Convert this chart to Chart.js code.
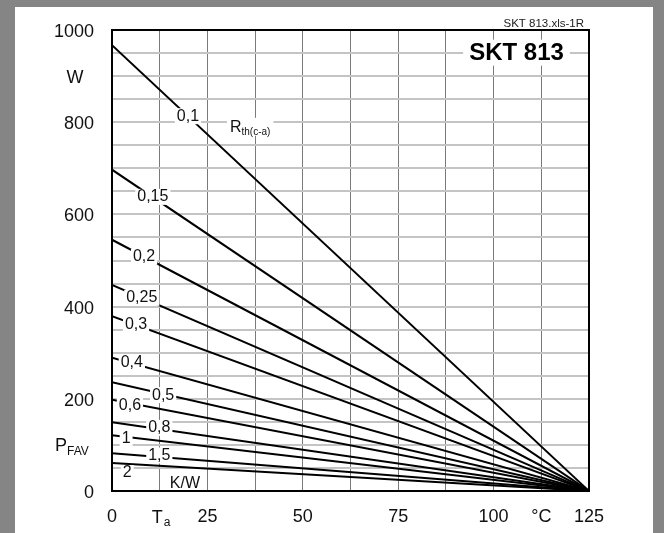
<!DOCTYPE html>
<html>
<head>
<meta charset="utf-8">
<script src="https://cdn.jsdelivr.net/npm/chart.js@4.4.1/dist/chart.umd.min.js"></script>
<style>
    html, body { margin: 0; padding: 0; }
    body { width: 664px; height: 533px; background: #858585; position: relative; overflow: hidden; }
    #frame { position: absolute; left: 15px; top: 7px; width: 638px; height: 526px; background: #ffffff; }
    canvas { display: block; }
</style>
</head>
<body>
<div id="frame"><canvas id="powerChart" width="638" height="526"></canvas></div>
<script>
// === SKT 813 power dissipation vs ambient temperature ===

// Ambient temperature end points (°C)
const ambientTemp = [0, 125];
// Thermal resistance case-ambient, one curve each (K/W)
const rthLabels = ['0,1', '0,15', '0,2', '0,25', '0,3', '0,4', '0,5', '0,6', '0,8', '1', '1,5', '2'];
// P_FAV (W) read at Ta = 0 and Ta = 125
const powerAtStart = [967, 697, 545, 447, 379, 289, 236, 198, 149, 121, 82, 61];
const powerAtEnd = [0, 0, 0, 0, 0, 0, 0, 0, 0, 0, 0, 0];

const xTickLabels = [0, 25, 50, 75, 100, 125];
const yTickLabels = [0, 200, 400, 600, 800, 1000];

// where the curve labels sit (data coords)
const labelSpots = [
    [19.9, 813], [10.7, 638], [8.4, 508], [7.8, 419], [6.3, 360], [5.2, 278],
    [13.4, 208], [4.7, 185], [12.4, 137], [3.7, 113], [12.4, 77], [4, 39]
];

const FONT = "'Liberation Sans', Arial, sans-serif";

const datasets = rthLabels.map(function(label, i) {
    return {
        label: label,
        data: [
            { x: ambientTemp[0], y: powerAtStart[i] },
            { x: ambientTemp[1], y: powerAtEnd[i] }
        ],
        borderColor: '#000000',
        borderWidth: 2,
        pointRadius: 0,
        tension: 0,
        fill: false
    };
});

function boxedText(ctx, text, x, y, font) {
    ctx.font = font;
    const w = ctx.measureText(text).width;
    ctx.fillStyle = '#ffffff';
    ctx.fillRect(x - w / 2 - 2, y - 8, w + 4, 16);
    ctx.fillStyle = '#111111';
    ctx.textAlign = 'center';
    ctx.textBaseline = 'middle';
    ctx.fillText(text, x, y);
}

const annotations = {
    id: 'annotations',
    afterDatasetsDraw: function(chart) {
        const ctx = chart.ctx;
        const xs = chart.scales.x;
        const ys = chart.scales.y;
        const area = chart.chartArea;
        ctx.save();

        // curve labels
        rthLabels.forEach(function(label, i) {
            const px = xs.getPixelForValue(labelSpots[i][0]);
            const py = ys.getPixelForValue(labelSpots[i][1]);
            boxedText(ctx, label, px, py, '16px ' + FONT);
        });

        // R_th(c-a)
        let px = xs.getPixelForValue(36.2);
        let py = ys.getPixelForValue(790);
        ctx.font = '16px ' + FONT;
        const rW = ctx.measureText('R').width;
        ctx.font = '10px ' + FONT;
        const sW = ctx.measureText('th(c-a)').width;
        ctx.fillStyle = '#ffffff';
        ctx.fillRect(px - (rW + sW) / 2 - 3, py - 9, rW + sW + 6, 18);
        ctx.fillStyle = '#111111';
        ctx.textAlign = 'left';
        ctx.textBaseline = 'alphabetic';
        ctx.font = '16px ' + FONT;
        ctx.fillText('R', px - (rW + sW) / 2, py + 5);
        ctx.font = '10px ' + FONT;
        ctx.fillText('th(c-a)', px - (rW + sW) / 2 + rW, py + 8);

        // K/W
        ctx.font = '16px ' + FONT;
        ctx.textAlign = 'center';
        ctx.textBaseline = 'middle';
        ctx.fillText('K/W', xs.getPixelForValue(19.1), ys.getPixelForValue(15));

        // device name
        ctx.font = 'bold 24px ' + FONT;
        const nW = ctx.measureText('SKT 813').width;
        px = xs.getPixelForValue(106);
        py = ys.getPixelForValue(953);
        ctx.fillStyle = '#ffffff';
        ctx.fillRect(px - nW / 2 - 6, py - 12, nW + 12, 26);
        ctx.fillStyle = '#000000';
        ctx.fillText('SKT 813', px, py + 2);

        // frame top/right
        ctx.strokeStyle = '#000000';
        ctx.lineWidth = 2;
        ctx.strokeRect(area.left, area.top, area.right - area.left, area.bottom - area.top);
        ctx.restore();
    },
    afterDraw: function(chart) {
        const ctx = chart.ctx;
        const xs = chart.scales.x;
        const ys = chart.scales.y;
        const area = chart.chartArea;
        ctx.save();
        ctx.fillStyle = '#222222';

        // file tag
        ctx.font = '11.5px ' + FONT;
        ctx.textAlign = 'right';
        ctx.textBaseline = 'middle';
        ctx.fillText('SKT 813.xls-1R', area.right - 5, area.top - 6);

        // axis unit W
        ctx.fillStyle = '#111111';
        ctx.font = '18px ' + FONT;
        ctx.textAlign = 'center';
        ctx.fillText('W', area.left - 37, ys.getPixelForValue(900) + 2);

        // P_FAV
        ctx.textAlign = 'left';
        ctx.textBaseline = 'alphabetic';
        let py = ys.getPixelForValue(100);
        ctx.font = '18px ' + FONT;
        ctx.fillText('P', area.left - 57, py + 6);
        const pW = ctx.measureText('P').width;
        ctx.font = '12px ' + FONT;
        ctx.fillText('FAV', area.left - 57 + pW, py + 10);

        // T_a
        const tx = xs.getPixelForValue(12.5);
        const ty = area.bottom + 32;
        ctx.font = '18px ' + FONT;
        const tW = ctx.measureText('T').width;
        ctx.fillText('T', tx - 8, ty);
        ctx.font = '12px ' + FONT;
        ctx.fillText('a', tx - 8 + tW + 1, ty + 3);
        ctx.restore();
    }
};

new Chart(document.getElementById('powerChart'), {
    type: 'line',
    data: { datasets: datasets },
    options: {
        responsive: false,
        animation: false,
        devicePixelRatio: 1,
        layout: { padding: { left: 0, top: 23, right: 64, bottom: 0 } },
        plugins: {
            legend: { display: false },
            tooltip: { enabled: false }
        },
        scales: {
            x: {
                type: 'linear',
                min: 0,
                max: 125,
                afterFit: function(scale) {
                    scale.height = 42;
                    scale.paddingLeft = 0;
                    scale.paddingRight = 0;
                },
                afterBuildTicks: function(scale) {
                    scale.ticks = [];
                    for (let v = 0; v <= 125; v += 12.5) scale.ticks.push({ value: v });
                },
                ticks: {
                    autoSkip: false,
                    maxRotation: 0,
                    padding: 15,
                    color: '#111111',
                    font: { family: FONT, size: 18 },
                    callback: function(value) {
                        if (xTickLabels.indexOf(value) >= 0) return String(value);
                        if (value === 112.5) return '°C';
                        return '';
                    }
                },
                grid: { color: '#7a7a7a', lineWidth: 1, drawTicks: false },
                border: { display: true, color: '#000000', width: 2 }
            },
            y: {
                min: 0,
                max: 1000,
                afterFit: function(scale) {
                    // fixed axis box, no label overflow padding
                    scale.width = 97;
                    scale.paddingTop = 0;
                    scale.paddingBottom = 0;
                },
                ticks: {
                    stepSize: 50,
                    autoSkip: false,
                    padding: 18,
                    labelOffset: 2,
                    color: '#111111',
                    font: { family: FONT, size: 18 },
                    callback: function(value) {
                        return yTickLabels.indexOf(value) >= 0 ? String(value) : '';
                    }
                },
                grid: { color: '#c4c4c4', lineWidth: 2, drawTicks: false },
                border: { display: true, color: '#000000', width: 2 }
            }
        }
    },
    plugins: [annotations]
});
</script>
</body>
</html>
